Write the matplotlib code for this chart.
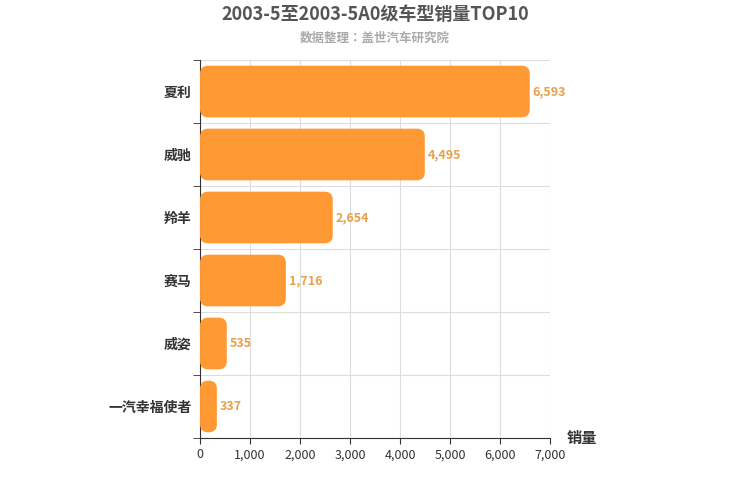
import matplotlib.pyplot as plt
from matplotlib.patches import FancyBboxPatch

plt.rcParams['font.family'] = ['Noto Sans CJK JP', 'Noto Sans CJK SC', 'Noto Sans CJK TC',
                               'Noto Sans CJK KR', 'DejaVu Sans']

models = ['夏利', '威驰', '羚羊', '赛马', '威姿', '一汽幸福使者']
sales = [6593, 4495, 2654, 1716, 535, 337]
xticks = [0, 1000, 2000, 3000, 4000, 5000, 6000, 7000]

fig = plt.figure(figsize=(7.5, 5), dpi=100)
ax = fig.add_axes([0.2667, 0.124, 0.4667, 0.756])
ax.set_xlim(0, 7000)
ax.set_ylim(len(models) - 0.5, -0.5)

# data units per pixel, used to keep the rounded corners round
aspect = (len(models) / 378) / (7000 / 350)
for i, v in enumerate(sales):
    h = 0.82
    ax.add_patch(FancyBboxPatch((0, i - h / 2), v, h,
                                boxstyle="round,pad=0,rounding_size=160",
                                mutation_aspect=aspect,
                                fc='#FF9933', ec='none', zorder=3))
    ax.text(v + 60, i, f"{v:,}", va='center', ha='left', fontsize=9,
            color='#E8A04A', fontweight='bold', zorder=4)

ax.set_yticks(range(len(models)))
ax.set_yticklabels(models, fontsize=10, fontweight='bold', color='#333333')
ax.set_yticks([i - 0.5 for i in range(len(models) + 1)], minor=True)
ax.tick_params(axis='y', which='major', length=0, pad=6)
ax.tick_params(axis='y', which='minor', length=5, color='#333333')
ax.set_xticks(xticks)
ax.set_xticklabels([f"{t:,}" for t in xticks], fontsize=9, color='#333333')
ax.tick_params(axis='x', length=4, color='#333333')

ax.grid(axis='x', color='#dddddd', linewidth=0.8, zorder=0)
ax.grid(axis='y', which='minor', color='#dddddd', linewidth=0.8, zorder=0)
for s in ['top', 'right']:
    ax.spines[s].set_visible(False)
ax.spines['left'].set_color('#333333')
ax.spines['bottom'].set_color('#333333')

fig.text(0.5, 0.972, '2003-5至2003-5A0级车型销量TOP10', ha='center', va='center',
         fontsize=13, fontweight='bold', color='#555555')
fig.text(0.5, 0.924, '数据整理：盖世汽车研究院', ha='center', va='center',
         fontsize=9, fontweight='bold', color='#aaaaaa')
fig.text(0.755, 0.124, '销量', ha='left', va='center', fontsize=11,
         fontweight='bold', color='#333333')

fig.savefig('out.png')
